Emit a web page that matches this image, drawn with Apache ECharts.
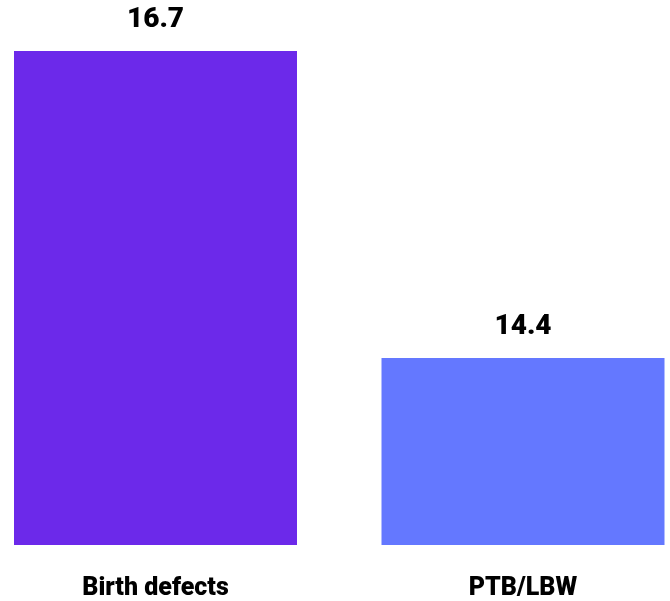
<!DOCTYPE html>
<html>
<head>
<meta charset="utf-8">
<script src="https://cdn.jsdelivr.net/npm/echarts@6/dist/echarts.min.js"></script>
<style>html,body{margin:0;padding:0;background:#fff;}#c{width:670px;height:601px;}</style>
</head>
<body>
<div id="c"></div>
<script>
const categories = ['Birth defects', 'PTB/LBW'];
const values = [16.7, 14.4];
const barColors = ['#6c29ea', '#6478ff'];

const chart = echarts.init(document.getElementById('c'), null, {renderer: 'canvas'});
chart.setOption({
  animation: false,
  backgroundColor: '#ffffff',
  grid: {left: 155.5, right: 147, top: 11, bottom: 55, containLabel: false},
  xAxis: {
    type: 'category',
    data: categories,
    boundaryGap: false,
    axisLine: {show: false},
    axisTick: {show: false},
    splitLine: {show: false},
    axisLabel: {
      margin: 31,
      color: '#000',
      fontFamily: 'Roboto',
      fontWeight: 900,
      fontSize: 25
    }
  },
  yAxis: {
    type: 'value',
    min: 13,
    max: 17,
    show: false
  },
  series: [{
    type: 'bar',
    barWidth: 283,
    data: values.map((v, i) => ({value: v, itemStyle: {color: barColors[i]}})),
    label: {
      show: true,
      position: 'top',
      distance: 17,
      color: '#000',
      fontFamily: 'Roboto',
      fontWeight: 900,
      fontSize: 28
    }
  }]
});
</script>
</body>
</html>
